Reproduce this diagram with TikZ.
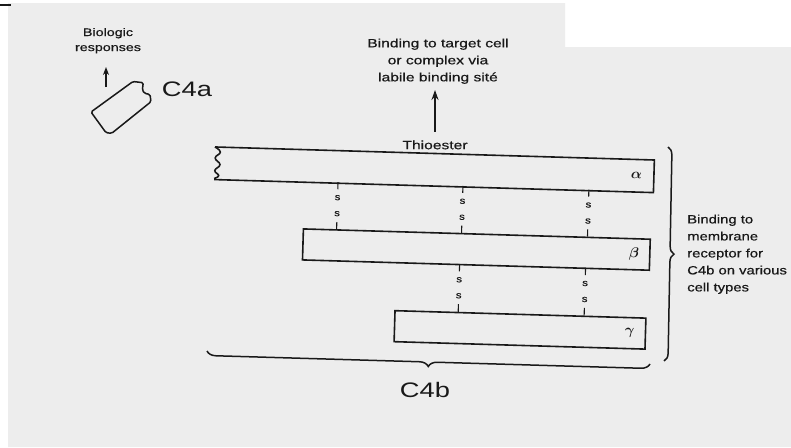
\documentclass[tikz,border=0pt]{standalone}
\usepackage{fontspec}
\setmainfont{Liberation Sans}
\newfontfamily\inkfont[FakeBold=0.5]{Liberation Sans}
\usetikzlibrary{decorations.pathreplacing,arrows.meta}
\definecolor{paper}{RGB}{237,237,237}
\definecolor{ink}{RGB}{25,25,25}
\begin{document}
\begin{tikzpicture}[x=1pt,y=-1pt,
  lbl/.style={font=\inkfont\fontsize{12}{17}\selectfont, xscale=1.3, align=center, inner sep=0pt, text=ink},
  big/.style={font=\fontsize{21}{24}\selectfont, xscale=1.3, inner sep=0pt, text=ink},
  chain/.style={draw=ink, line width=1.6pt, minimum height=31pt, inner sep=0pt, anchor=north west, transform shape},
  greek/.style={font=\fontsize{14}{14}\selectfont\boldmath, inner sep=0pt, text=ink, transform shape},
  sb/.style={font=\inkfont\fontsize{9.5}{9.5}\selectfont, xscale=1.2, inner sep=0.6pt, text=ink, transform shape},
  tick/.style={draw=ink, line width=1.1pt, shorten >=5pt},
  uparrow/.style={draw=ink, line width=2.1pt, -{Stealth[length=10pt,width=7pt]}},
  smallarrow/.style={draw=ink, line width=1.7pt, -{Stealth[length=8pt,width=6pt]}},
  brc/.style={draw=ink, line width=1.5pt, decorate, decoration={brace, amplitude=8pt}}
]
\useasboundingbox (0,0) rectangle (791,447);
\fill[white] (0,0) rectangle (791,447);
\fill[paper] (8,3) -- (565,3) -- (565,47) -- (791,47) -- (791,447) -- (8,447) -- cycle;
\draw[ink, line width=2.5pt] (0,5) -- (11,5);

% C4a fragment
\draw[ink, line width=1.5pt, rounded corners=1.5pt]
  (91,112) -- (133,81.5) -- (143.3,82.7) -- (142.3,90) -- (144.5,93.3) -- (150,94.5)
  -- (151,101.7) -- (111.7,133.3) -- (106,132.7) -- cycle;
\node[big] (c4a) at (187,89.5) {C4a};
\node[lbl, font=\inkfont\fontsize{11}{15}\selectfont] (bio) at (108,40.7) {Biologic\\responses};
\coordinate (bioarr) at (106,87);
\draw[smallarrow, shorten >=13.5pt] (bioarr) -- (bioarr |- bio.south);

% C4b chains
\begin{scope}[rotate around={-1.7:(435,150)}]
  \node[chain, draw=none, minimum width=438pt] (alpha) at (215,153.5) {};
  \draw[ink, line width=1.6pt] (alpha.north west) -- (alpha.north east)
     -- (alpha.south east) -- (alpha.south west);
  \draw[ink, line width=1.6pt] plot[smooth, tension=0.8] coordinates
     {(215,153.5) (220.5,158.5) (215.5,164.5) (220.5,171) (215.5,177) (219.5,182) (215,185)};
  \node[chain, minimum width=347pt] (beta) at (305,232) {};
  \node[chain, minimum width=251pt] (gamma) at (399,311) {};
  \node[greek] (la) at (637,169.5) {$\alpha$};
  \node[greek] (lb) at (637,248) {$\beta$};
  \node[greek] (lg) at (635,327) {$\gamma$};
  \foreach \x/\n in {339/1,464/2,590/3} {
    \coordinate (abt\n) at (\x,185);
    \node[sb] (abu\n) at (\x,200.5) {s};
    \node[sb] (abl\n) at (\x,216.5) {s};
    \coordinate (abb\n) at (\x,232);
    \draw[tick] (abt\n) -- (abu\n);
    \draw[tick] (abb\n) -- (abl\n);
  }
  \foreach \x/\n in {463/1,589/2} {
    \coordinate (bgt\n) at (\x,263);
    \node[sb] (bgu\n) at (\x,279) {s};
    \node[sb] (bgl\n) at (\x,295) {s};
    \coordinate (bgb\n) at (\x,311);
    \draw[tick] (bgt\n) -- (bgu\n);
    \draw[tick] (bgb\n) -- (bgl\n);
  }
\end{scope}

% thioester and labile binding site
\node[lbl] (thio) at (435,144.9) {Thioester};
\node[lbl] (bind) at (438,61.2) {Binding to target cell\\or complex via\\labile binding sité};
\draw[uparrow, shorten <=8.5pt, shorten >=6pt] (thio.north) -- (thio.north |- bind.south);

% braces
\draw[brc] (668,147) -- (664,361);
\draw[brc, decoration={brace, amplitude=9pt}] (650,364) -- (207,351);
\node[lbl, xscale=0.95, align=left, anchor=north west] (recep) at (687,214.5)
  {Binding to\\membrane\\receptor for\\C4b on various\\cell types};
\node[big] (c4b) at (425,390) {C4b};
\end{tikzpicture}
\end{document}
